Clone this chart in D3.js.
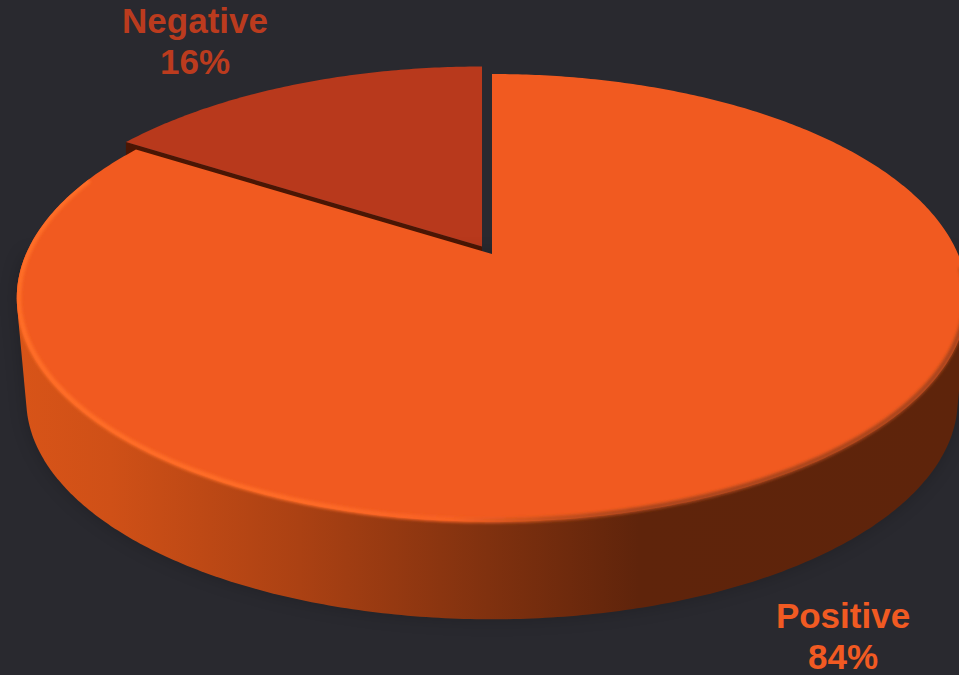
<!DOCTYPE html>
<html>
<head>
<meta charset="utf-8">
<script src="https://cdnjs.cloudflare.com/ajax/libs/d3/7.8.5/d3.min.js"></script>
<style>
html,body{margin:0;padding:0;background:#29292f;overflow:hidden}
svg{display:block}
text{font-family:"Liberation Sans",Arial,sans-serif;font-weight:700;font-size:35px;text-anchor:middle}
</style>
</head>
<body>
<svg id="chart" width="959" height="675"></svg>
<script>
const categories = ["Positive", "Negative"];
const percentValues = [84, 16];

const W = 959, H = 675;
const svg = d3.select("#chart").attr("viewBox", `0 0 ${W} ${H}`);

// perspective view of a disc: unit circle (u, v) -> screen
const cx = 492, radius = 466, apexY = 254, persp = -0.196, foreshort = 165.5;
const wallDepth = 102, bottomScale = 0.98, ellipseMidY = 298;

function project(angle, r, level, dx = 0, dy = 0) {
  const u = r * Math.sin(angle), v = -r * Math.cos(angle);
  const w = 1 + persp * v;
  const x0 = radius * u / w;
  const y0 = (foreshort * v + apexY) / w - ellipseMidY;
  const s = level ? bottomScale : 1;
  return [cx + s * x0 + dx, ellipseMidY + s * y0 + (level ? wallDepth : 0) + dy];
}
const line = d3.line();
const arcPts = (a0, a1, r, level, dx, dy) => {
  const n = Math.max(2, Math.ceil(Math.abs(a1 - a0) * 90));
  return d3.range(n + 1).map(i => project(a0 + (a1 - a0) * i / n, r, level, dx, dy));
};

const pie = d3.pie().sort(null).value(d => d);
const slices = pie(percentValues);
const posSlice = slices[0], negSlice = slices[1];

const defs = svg.append("defs");
function hGrad(id, stops) {
  const g = defs.append("linearGradient").attr("id", id)
    .attr("gradientUnits", "userSpaceOnUse")
    .attr("x1", 17).attr("x2", 959).attr("y1", 0).attr("y2", 0);
  stops.forEach(s => g.append("stop").attr("offset", s[0]).attr("stop-color", s[1]));
}
hGrad("wall", [[0, "#d85418"], [0.1, "#cf5017"], [0.3, "#ab4113"], [0.5, "#80310f"], [0.66, "#5f240b"], [1, "#5e240b"]]);
hGrad("rim", [[0, "#ff6e27"], [0.3, "#ff6c26"], [0.46, "#f96224"], [0.56, "#c5501c"], [0.66, "#a8441a"], [1, "#a8441a"]]);
defs.append("filter").attr("id", "soft").attr("x", "-10%").attr("y", "-10%").attr("width", "120%").attr("height", "120%")
  .append("feGaussianBlur").attr("stdDeviation", 1.8);
defs.append("filter").attr("id", "shade").attr("x", "-10%").attr("y", "-10%").attr("width", "120%").attr("height", "120%")
  .append("feGaussianBlur").attr("stdDeviation", 9);

// exploded negative slice
const negDx = -10, negDy = -7.5;
const negPath = [project(0, 0, 0, negDx, negDy)].concat(arcPts(negSlice.startAngle, negSlice.endAngle, 1, 0, negDx, negDy));
const negWall = [
  project(0, 0, 0, negDx, negDy),
  project(negSlice.startAngle, 1, 0, negDx, negDy),
  project(negSlice.startAngle, 1, 0, negDx, negDy + 14),
  project(0, 0, 0, negDx, negDy + 14)
];
svg.append("path").attr("d", line(negWall) + "Z").attr("fill", "#4a1604");
svg.append("path").attr("d", line(negPath) + "Z").attr("fill", "#b8391c");

// side wall of the positive slice, from the front half of both rims
const frontA0 = Math.PI / 2, frontA1 = Math.PI * 1.5;
const hull = d3.polygonHull(arcPts(frontA0, frontA1, 1, 0).concat(arcPts(frontA0, frontA1, 1, 1)));
svg.append("path").attr("d", line(hull) + "Z").attr("fill", "#000").attr("opacity", 0.2)
  .attr("filter", "url(#shade)");
svg.append("path").attr("d", line(hull) + "Z").attr("fill", "url(#wall)");

// top face
const posPath = [project(0, 0, 0)].concat(arcPts(posSlice.startAngle, posSlice.endAngle, 1, 0));
svg.append("path").attr("d", line(posPath) + "Z").attr("fill", "#f15a20");

// bevel on the front rim, kept inside the silhouette of the pie
const clip = svg.append("clipPath").attr("id", "pieClip");
clip.append("path").attr("d", line(posPath) + "Z");
clip.append("path").attr("d", line(hull) + "Z");
const rimPts = arcPts(Math.PI * 0.52, Math.PI * 1.62, 0.996, 0);
svg.append("g").attr("clip-path", "url(#pieClip)")
  .append("path").attr("d", line(rimPts)).attr("fill", "none")
  .attr("stroke", "url(#rim)").attr("stroke-width", 5).attr("filter", "url(#soft)");

// labels
const labels = svg.append("g");
const labelLayout = [
  { x: 843, y: 628, fill: "#f15a22" },
  { x: 195, y: 33, fill: "#bb3b1e" }
];
categories.forEach((c, i) => {
  const t = labels.append("text").attr("x", labelLayout[i].x).attr("y", labelLayout[i].y).attr("fill", labelLayout[i].fill);
  t.append("tspan").attr("x", labelLayout[i].x).text(c);
  t.append("tspan").attr("x", labelLayout[i].x).attr("dy", 41).text(percentValues[i] + "%");
});
</script>
</body>
</html>
